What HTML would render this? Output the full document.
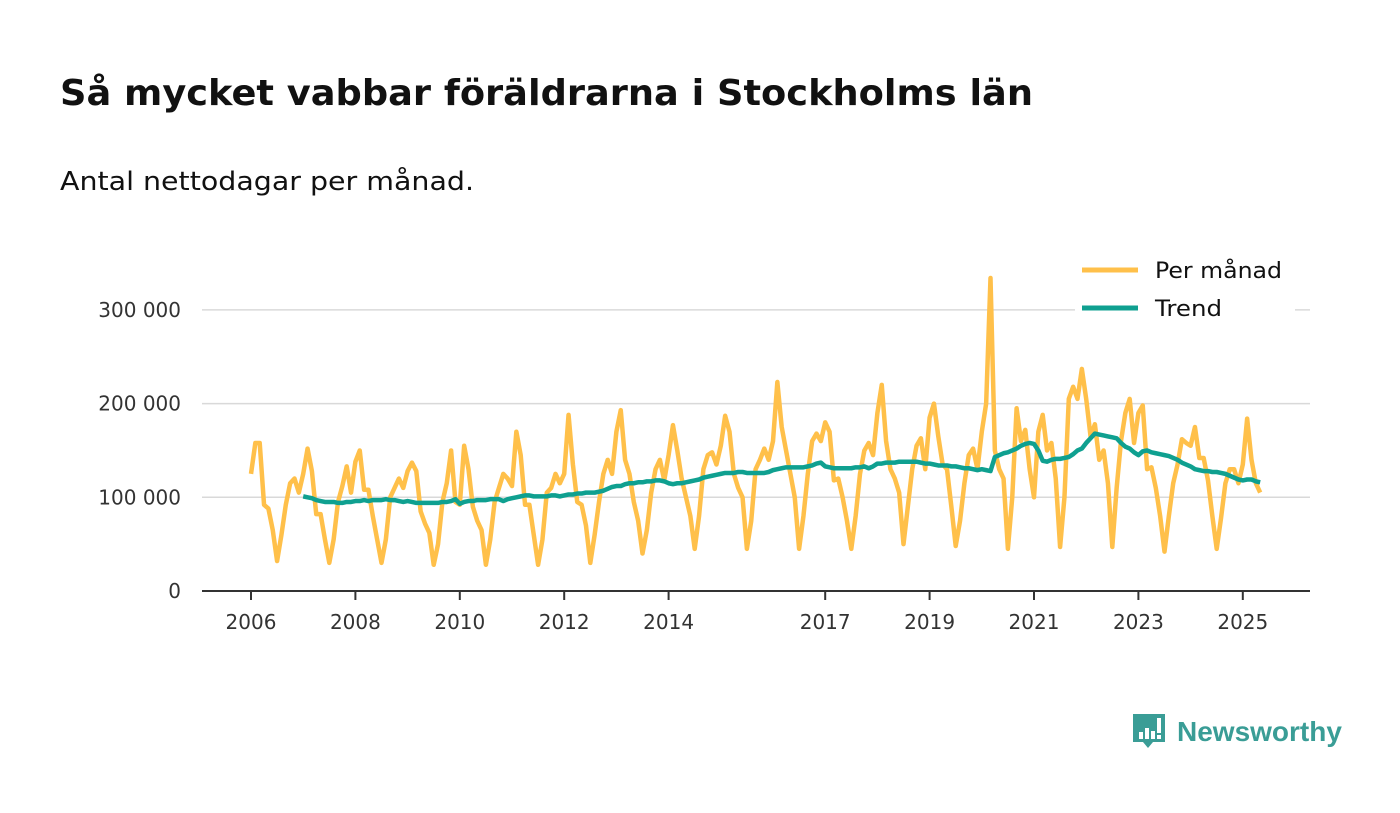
<!DOCTYPE html>
<html><head><meta charset="utf-8">
<style>
body{margin:0;background:#fff;width:1400px;height:813px;overflow:hidden;font-family:"DejaVu Sans","Liberation Sans",sans-serif;}
svg{position:absolute;left:0;top:0;}
#logo{position:absolute;left:1133px;top:712px;display:flex;align-items:center;}
#logo span{font-family:"Liberation Sans",sans-serif;font-size:28px;font-weight:bold;color:#3a9d96;margin-left:10px;}
</style></head><body>
<svg id="chart" width="1400" height="813">
<text x="60" y="105" font-size="36" font-weight="bold" fill="#111" textLength="973" lengthAdjust="spacingAndGlyphs">Så mycket vabbar föräldrarna i Stockholms län</text>
<text x="60" y="190" font-size="26" fill="#111" textLength="414" lengthAdjust="spacingAndGlyphs">Antal nettodagar per månad.</text>
</svg>
<div id="logo">
<svg width="34" height="40" viewBox="0 0 34 40" style="position:static"><path d="M0 2h32v28H20l-5 6-5-6H0z" fill="#3a9d96"/><rect x="6" y="20" width="4" height="7" fill="#fff"/><rect x="12" y="16" width="4" height="11" fill="#fff"/><rect x="18" y="19" width="4" height="8" fill="#fff"/><rect x="24" y="6" width="4" height="15" fill="#fff"/><rect x="24" y="23" width="4" height="4" fill="#fff"/></svg>
<span>Newsworthy</span></div>
<script>
const monthly = [
125,158,158,92,88,65,32,60,92,115,120,105,
125,152,128,82,82,55,30,55,95,112,133,105,
138,150,108,108,80,55,30,55,100,110,120,110,
128,137,128,85,72,62,28,50,95,115,150,95,
92,155,130,90,75,65,28,55,95,110,125,120,
112,170,145,92,92,60,28,55,105,110,125,115,
125,188,135,95,92,70,30,60,95,125,140,125,
170,193,140,125,95,75,40,65,105,130,140,118,
145,177,150,120,100,80,45,80,130,145,148,135,
155,187,170,125,110,100,45,75,130,140,152,140,
160,223,175,150,125,100,45,80,125,160,168,160,
180,170,118,120,100,75,45,80,125,150,158,145,
190,220,160,130,120,105,50,90,130,155,163,130,
185,200,165,135,130,90,48,75,115,145,152,130,
170,200,334,150,130,120,45,100,195,160,172,130,
100,170,188,150,158,120,47,100,205,218,205,237,
205,165,178,140,150,115,47,110,160,190,205,158,
190,198,130,132,110,80,42,80,115,135,162,158,
155,175,142,142,118,80,45,78,115,130,130,115,
135,184,140,115,105];
const trend = [
101,100,99,97,96,95,95,95,94,94,95,95,
96,96,97,96,97,97,97,98,97,97,96,95,
96,95,94,94,94,94,94,94,95,95,96,98,
93,95,96,96,97,97,97,98,98,98,96,98,
99,100,101,102,102,101,101,101,101,102,102,101,
102,103,103,104,104,105,105,105,106,107,109,111,
112,112,114,115,115,116,116,117,117,118,118,117,
115,114,115,115,116,117,118,119,121,122,123,124,
125,126,126,126,127,127,126,126,126,126,126,127,
129,130,131,132,132,132,132,132,133,134,136,137,
133,132,131,131,131,131,131,132,132,133,131,133,
136,136,137,137,137,138,138,138,138,138,137,136,
136,135,134,134,134,133,133,132,131,131,130,129,
130,129,128,143,145,147,148,150,152,155,157,158,
157,150,139,138,140,141,141,142,143,146,150,152,
158,163,168,167,166,165,164,163,158,154,152,148,
145,149,150,148,147,146,145,144,142,140,137,135,
133,130,129,128,128,127,127,126,125,123,121,119,
118,119,119,117,116];
const xTicks = [2006,2008,2010,2012,2014,2017,2019,2021,2023,2025];
const yTicks = [0,100000,200000,300000];
const yLabels = ["0","100 000","200 000","300 000"];

const NS="http://www.w3.org/2000/svg";
const svg=document.getElementById('chart');
const X=t=>251+(t-2006)*52.2;
const Y=v=>591-v*0.000937;
function mk(tag,attrs){const e=document.createElementNS(NS,tag);for(const k in attrs)e.setAttribute(k,attrs[k]);svg.appendChild(e);return e;}
yTicks.forEach((v,i)=>{
  if(v>0){const g=mk('line',{x1:202,x2:1310,y1:Y(v),y2:Y(v),stroke:'#d9d9d9','stroke-width':1.5});
  
  }
  const t=mk('text',{x:181,y:Y(v)+7,'text-anchor':'end','font-size':20,fill:'#333'});
  t.textContent=yLabels[i];
  
  
});
const ax=mk('line',{x1:202,x2:1310,y1:591,y2:591,stroke:'#333','stroke-width':2});


xTicks.forEach(yr=>{
  const tk=mk('line',{x1:X(yr),x2:X(yr),y1:591,y2:600,stroke:'#333','stroke-width':2});
  
  
  const t=mk('text',{x:X(yr),y:629,'text-anchor':'middle','font-size':20,fill:'#333'});
  t.textContent=yr;
  
  
});
const p1=mk('polyline',{points:monthly.map((v,i)=>X(2006+i/12)+','+Y(v*1000)).join(' '),fill:'none',stroke:'#ffc04a','stroke-width':4.5,'stroke-linejoin':'round'});


const p2=mk('polyline',{points:trend.map((v,i)=>X(2007+i/12)+','+Y(v*1000)).join(' '),fill:'none',stroke:'#0fa090','stroke-width':4.5,'stroke-linejoin':'round'});


const lb=mk('rect',{x:1075,y:250,width:220,height:72,fill:'#fff'});


[['Per månad','#ffc04a',270,127],['Trend','#0fa090',308,67]].forEach(([n,c,y,w])=>{
  const l=mk('line',{x1:1082,x2:1138,y1:y,y2:y,stroke:c,'stroke-width':5});
  
  
  const t=mk('text',{x:1155,y:y+8,'font-size':22,fill:'#111',textLength:w,lengthAdjust:'spacingAndGlyphs'});
  t.textContent=n;
  
  
});
</script>
</body></html>
